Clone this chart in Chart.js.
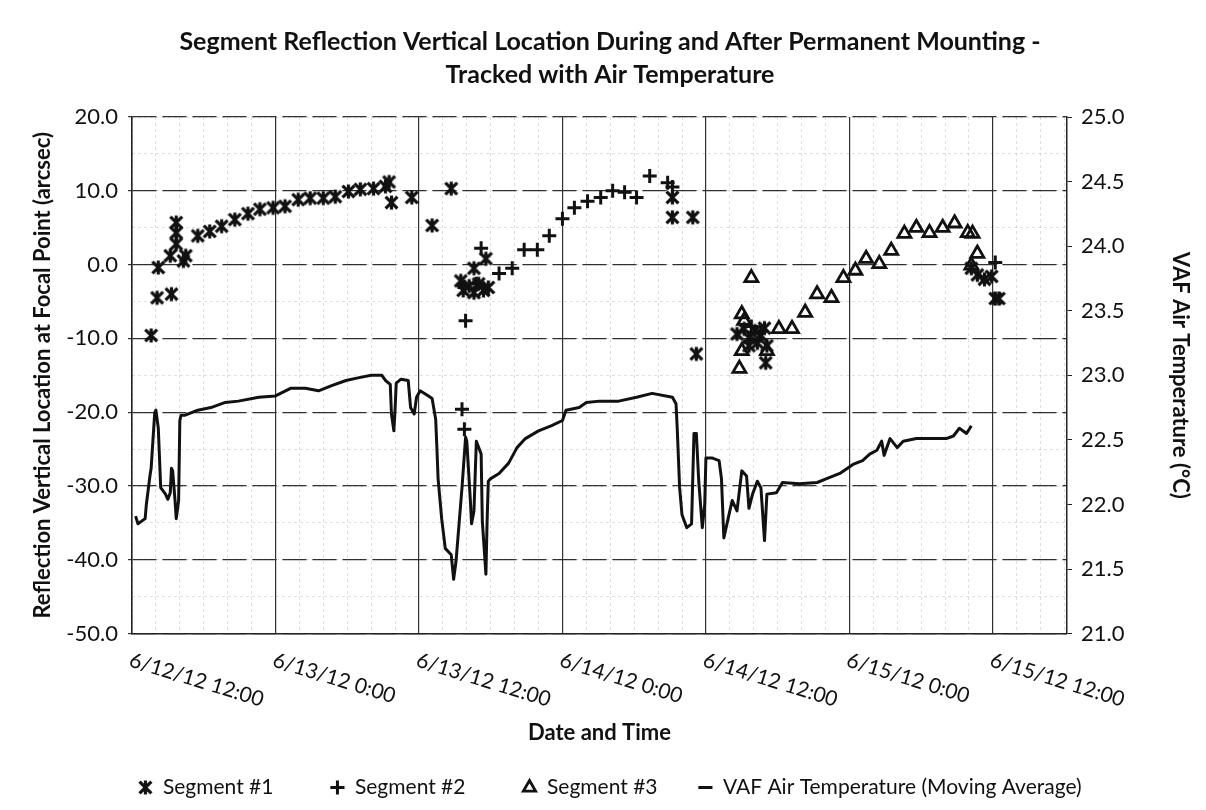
<!DOCTYPE html>
<html>
<head>
<meta charset="utf-8">
<title>Segment Reflection Vertical Location</title>
<script src="https://cdn.jsdelivr.net/npm/chart.js@4/dist/chart.umd.min.js"></script>
<style>
  html, body { margin: 0; padding: 0; background: #fff; }
  #chart { display: block; }
</style>
</head>
<body>
<canvas id="chart" width="1206" height="810"></canvas>
<script>
// hours after 6/12/12 12:00
var xTickHours = [0, 12, 24, 36, 48, 60, 72];
var xTickLabels = ['6/12/12 12:00', '6/13/12 0:00', '6/13/12 12:00', '6/14/12 0:00', '6/14/12 12:00', '6/15/12 0:00', '6/15/12 12:00'];

var seg1Hours = [1.6, 2.1, 3.3, 2.2, 3.2, 3.7, 3.7, 3.7, 4.3, 4.5, 5.5, 6.5, 7.5, 8.6, 9.7, 10.7, 11.8, 12.8, 13.9, 14.9,
  16.0, 17.0, 18.1, 19.1, 20.2, 21.2, 21.5, 21.7, 23.4, 25.1, 26.7, 27.5, 27.7, 28.2, 28.6, 29.0, 29.4, 29.8, 28.6, 29.6,
  45.2, 45.2, 46.9, 47.2, 50.6, 51.2, 51.6, 52.1, 52.3, 52.6, 52.9, 53.1, 53.0, 51.6, 70.2, 70.7, 71.3, 71.9, 72.2, 72.5];
var seg1Values = [-9.6, -4.5, -4.0, -0.4, 1.2, 2.8, 4.3, 5.7, 0.5, 1.2, 3.9, 4.5, 5.2, 6.1, 6.9, 7.5, 7.7, 7.9, 8.8, 9.0,
  9.0, 9.2, 9.9, 10.2, 10.3, 10.6, 11.2, 8.4, 9.1, 5.3, 10.3, -2.2, -3.5, -2.9, -3.8, -2.6, -3.5, -3.1, -0.5, 0.8,
  9.1, 6.4, 6.4, -12.1, -9.4, -8.7, -9.9, -9.0, -10.6, -9.6, -8.6, -11.0, -13.3, -11.0, -0.5, -1.4, -2.0, -1.6, -4.6, -4.6];

var seg2Hours = [27.6, 27.8, 27.9, 27.8, 28.8, 29.2, 30.7, 31.8, 32.8, 33.9, 34.9, 36.0, 37.0, 38.1, 39.2, 40.2, 41.2,
  42.2, 43.3, 44.8, 45.2, 51.8, 52.6, 72.2];
var seg2Values = [-19.6, -22.3, -7.6, -3.1, -2.6, 2.2, -1.2, -0.5, 2.0, 2.0, 3.9, 6.2, 7.7, 8.6, 9.1, 10.0, 9.8,
  9.1, 12.0, 11.1, 10.5, -8.4, -9.0, 0.3];

var seg3Hours = [50.8, 51.0, 51.0, 51.2, 51.8, 53.1, 54.1, 55.2, 56.3, 57.3, 58.5, 59.5, 60.5, 61.4, 62.5, 63.5, 64.6,
  65.6, 66.7, 67.8, 68.8, 69.9, 70.3, 70.7, 70.2];
var seg3Values = [-14.1, -11.7, -6.7, -7.6, -1.8, -11.7, -8.7, -8.7, -6.5, -4.0, -4.5, -1.8, -0.8, 0.8, 0.1, 1.9, 4.2,
  5.0, 4.3, 5.0, 5.6, 4.3, 4.2, 1.5, -0.1];

var tempHours = [0.3, 0.5, 1.1, 1.2, 1.5, 1.6, 1.9, 2.0, 2.2, 2.4, 2.8, 3.0, 3.2, 3.3, 3.4, 3.6, 3.7, 3.9, 4.0, 4.1,
  4.4, 5.5, 6.6, 7.8, 8.9, 10.6, 12.0, 13.3, 14.5, 15.6, 16.7, 17.9, 18.9, 20.0, 20.9, 21.2, 21.6, 21.7, 21.9, 22.0,
  22.1, 22.5, 23.1, 23.3, 23.6, 23.8, 24.1, 24.8, 25.1, 25.4, 25.5, 25.6, 25.9, 26.2, 26.7, 26.9, 27.1, 27.6, 27.9, 28.0,
  28.3, 28.4, 28.6, 28.8, 29.2, 29.3, 29.6, 29.7, 29.8, 30.0, 30.7, 31.5, 32.2, 32.9, 34.0, 35.1, 36.0, 36.3, 37.4, 38.0,
  39.1, 40.7, 42.2, 43.5, 45.2, 45.5, 45.6, 45.8, 46.0, 46.4, 46.8, 47.0, 47.2, 47.4, 47.7, 47.9, 48.0, 48.5, 49.1, 49.3,
  49.5, 50.0, 50.2, 50.6, 51.0, 51.4, 51.6, 51.9, 52.3, 52.6, 52.9, 53.1, 53.9, 54.4, 55.8, 57.3, 58.1, 59.2, 60.3, 61.1,
  61.7, 62.3, 62.7, 62.9, 63.4, 64.0, 64.5, 65.6, 67.0, 68.1, 68.7, 69.2, 69.8, 70.2];
var tempValues = [21.91, 21.85, 21.89, 22.0, 22.22, 22.28, 22.71, 22.73, 22.59, 22.13, 22.08, 22.04, 22.09, 22.28, 22.26, 22.03, 21.89, 22.03, 22.65, 22.69,
  22.69, 22.73, 22.75, 22.79, 22.80, 22.83, 22.84, 22.90, 22.90, 22.88, 22.92, 22.96, 22.98, 23.0, 23.0, 22.96, 22.93, 22.70, 22.57, 22.73,
  22.94, 22.97, 22.96, 22.75, 22.70, 22.83, 22.88, 22.84, 22.82, 22.66, 22.44, 22.20, 21.89, 21.66, 21.61, 21.42, 21.56, 22.13, 22.52, 22.49,
  22.03, 21.85, 21.95, 22.49, 22.39, 21.87, 21.46, 21.87, 22.18, 22.20, 22.24, 22.32, 22.44, 22.51, 22.57, 22.61, 22.65, 22.73, 22.75, 22.79,
  22.80, 22.80, 22.83, 22.86, 22.83, 22.78, 22.59, 22.13, 21.92, 21.82, 21.85, 22.55, 22.55, 22.18, 21.82, 22.0, 22.36, 22.36, 22.34, 22.20,
  21.74, 21.95, 22.03, 21.95, 22.26, 22.22, 21.97, 22.08, 22.18, 22.13, 21.72, 22.08, 22.09, 22.17, 22.16, 22.17, 22.20, 22.24, 22.31, 22.34,
  22.39, 22.42, 22.49, 22.38, 22.51, 22.44, 22.49, 22.51, 22.51, 22.51, 22.53, 22.59, 22.55, 22.61];

function points(xs, ys) {
  return xs.map(function (x, i) { return { x: x, y: ys[i] }; });
}

// excel style asterisk marker: X with a vertical bar
function makeAsterisk(size, lw) {
  var c = document.createElement('canvas');
  c.width = size; c.height = size;
  var g = c.getContext('2d');
  var m = size / 2, r = size / 2 - 1.5;
  g.strokeStyle = '#111';
  g.lineWidth = lw;
  g.beginPath();
  g.moveTo(m - r * 0.85, m - r * 0.85); g.lineTo(m + r * 0.85, m + r * 0.85);
  g.moveTo(m + r * 0.85, m - r * 0.85); g.lineTo(m - r * 0.85, m + r * 0.85);
  g.moveTo(m, m - r); g.lineTo(m, m + r);
  g.stroke();
  return c;
}
var asterisk = makeAsterisk(17, 3.2);

var xMin = 0, xMax = 78.2;

// draws the date labels sloping down to the right, like the original
var dateLabels = {
  id: 'dateLabels',
  afterDraw: function (chart) {
    var ctx = chart.ctx;
    var xs = chart.scales.x;
    var bottom = chart.chartArea.bottom;
    ctx.save();
    ctx.fillStyle = '#111';
    ctx.font = '21px Lato';
    ctx.textAlign = 'left';
    ctx.textBaseline = 'top';
    xTickHours.forEach(function (h, i) {
      var px = xs.getPixelForValue(h);
      ctx.save();
      ctx.translate(px + 1, bottom + 16);
      ctx.rotate(17 * Math.PI / 180);
      ctx.fillText(xTickLabels[i], 0, 0);
      ctx.restore();
    });
    ctx.restore();
  }
};

// the legend entries sit unevenly in the original, so pad the first three
var legendGaps = ['        ', '        ', '     ', ''];

var ctx = document.getElementById('chart').getContext('2d');
var chart = new Chart(ctx, {
  type: 'scatter',
  data: {
    datasets: [{
      label: 'Segment #1',
      data: points(seg1Hours, seg1Values),
      pointStyle: asterisk,
      borderColor: '#111',
      backgroundColor: '#111'
    }, {
      label: 'Segment #2',
      data: points(seg2Hours, seg2Values),
      pointStyle: 'cross',
      pointRadius: 7,
      pointBorderWidth: 3,
      borderColor: '#111',
      backgroundColor: '#111'
    }, {
      label: 'Segment #3',
      data: points(seg3Hours, seg3Values),
      pointStyle: 'triangle',
      pointRadius: 7.5,
      pointBorderWidth: 2.8,
      borderColor: '#111',
      backgroundColor: 'rgba(255,255,255,0)'
    }, {
      label: 'VAF Air Temperature (Moving Average)',
      data: points(tempHours, tempValues),
      yAxisID: 'yT',
      showLine: true,
      pointRadius: 0,
      pointStyle: 'line',
      borderWidth: 3,
      borderJoinStyle: 'round',
      borderColor: '#111',
      backgroundColor: '#111'
    }]
  },
  options: {
    responsive: false,
    animation: false,
    layout: { padding: { left: 24, right: 10, top: 3, bottom: 2 } },
    plugins: {
      title: {
        display: true,
        text: ['Segment Reflection Vertical Location During and After Permanent Mounting -', 'Tracked with Air Temperature'],
        color: '#111',
        font: { family: 'Lato', size: 25, weight: 'bold', lineHeight: 1.3 },
        padding: { top: 23, bottom: 26 }
      },
      legend: {
        position: 'bottom',
        labels: {
          usePointStyle: true,
          boxWidth: 14,
          boxHeight: 10,
          padding: 14,
          color: '#111',
          font: { family: 'Lato', size: 21 },
          generateLabels: function (chart) {
            var items = Chart.defaults.plugins.legend.labels.generateLabels(chart);
            items.forEach(function (item, i) { item.text = item.text + legendGaps[i]; });
            return items;
          }
        }
      },
      tooltip: { enabled: false }
    },
    scales: {
      x: {
        type: 'linear',
        min: xMin,
        max: xMax,
        afterBuildTicks: function (scale) {
          scale.ticks = xTickHours.map(function (h) { return { value: h }; });
        },
        ticks: { display: false },
        grid: { color: '#333', lineWidth: 1.2, drawTicks: false },
        border: { color: '#222', width: 1.5 },
        title: {
          display: true,
          text: 'Date and Time',
          color: '#111',
          font: { family: 'Lato', size: 22, weight: 'bold' },
          padding: { top: 86, bottom: 17 }
        }
      },
      xMinor: {
        type: 'linear',
        position: 'bottom',
        min: xMin,
        max: xMax,
        afterBuildTicks: function (scale) {
          var t = [];
          for (var h = 0; h <= 78; h += 2) t.push({ value: h });
          scale.ticks = t;
        },
        ticks: { display: false },
        grid: { color: 'rgba(0,0,0,0.13)', lineWidth: 1, drawTicks: false },
        border: { display: false, dash: [3, 3] }
      },
      y: {
        position: 'left',
        min: -50,
        max: 20,
        ticks: {
          stepSize: 10,
          padding: 10,
          color: '#111',
          font: { family: 'Lato', size: 22 },
          callback: function (v) { return v.toFixed(1); }
        },
        grid: { color: '#333', lineWidth: 1.2, tickLength: 4 },
        border: { color: '#222', width: 1.5, dash: [24, 6] },
        title: {
          display: true,
          text: 'Reflection Vertical Location at Focal Point (arcsec)',
          color: '#111',
          font: { family: 'Lato', size: 22, weight: 'bold' },
          padding: { top: 6, bottom: 0 }
        },
        afterFit: function (scale) { scale.width = 108; }
      },
      yMinor: {
        position: 'left',
        min: -50,
        max: 20,
        ticks: { display: false, stepSize: 5 },
        grid: { color: 'rgba(0,0,0,0.12)', lineWidth: 1, drawTicks: false },
        border: { display: false, dash: [3, 3] },
        afterFit: function (scale) { scale.width = 0; }
      },
      yT: {
        position: 'right',
        min: 21,
        max: 25,
        ticks: {
          stepSize: 0.5,
          padding: 9,
          color: '#111',
          font: { family: 'Lato', size: 22 },
          callback: function (v) { return v.toFixed(1); }
        },
        grid: { drawOnChartArea: false, color: '#222', tickLength: 5 },
        border: { color: '#222', width: 1.5 },
        title: {
          display: true,
          text: 'VAF Air Temperature (°C)',
          color: '#111',
          font: { family: 'Lato', size: 22, weight: 'bold' },
          padding: { top: 3, bottom: 0 }
        },
        afterFit: function (scale) { scale.width = 129; }
      }
    }
  },
  plugins: [dateLabels]
});
</script>
</body>
</html>
